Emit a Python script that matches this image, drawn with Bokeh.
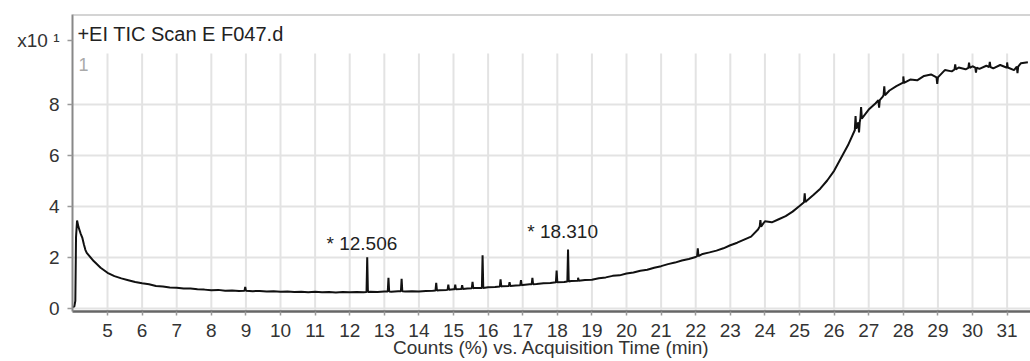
import numpy as np
from bokeh.plotting import figure
from bokeh.models import Range1d, Label, Span, FixedTicker
from bokeh.embed import file_html
from bokeh.resources import INLINE

# ---- data ----
early_t = [4.00, 4.04, 4.07, 4.09, 4.12, 4.16, 4.22, 4.27, 4.32, 4.36]
early_v = [0.05, 0.08, 0.30, 2.80, 3.45, 3.20, 2.95, 2.78, 2.50, 2.30]

base_t = [4.4, 4.6, 4.8, 5.0, 5.2, 5.4, 5.6, 5.8, 6.0, 6.2, 6.4, 6.6, 6.8, 7.0,
          7.2, 7.4, 7.6, 7.8, 8.0, 8.2, 8.4, 8.6, 8.8, 9.0, 9.2, 9.4, 9.6, 9.8,
          10.0, 10.2, 10.4, 10.6, 10.8, 11.0, 11.2, 11.4, 11.6, 11.8, 12.0, 12.2,
          12.4, 12.6, 12.8, 13.0, 13.2, 13.4, 13.6, 13.8, 14.0, 14.2, 14.4, 14.6,
          14.8, 15.0, 15.2, 15.4, 15.6, 15.8, 16.0, 16.2, 16.4, 16.6, 16.8, 17.0,
          17.2, 17.4, 17.6, 17.8, 18.0, 18.2, 18.4, 18.6, 18.8, 19.0, 19.2, 19.4,
          19.6, 19.8, 20.0, 20.2, 20.4, 20.6, 20.8, 21.0, 21.2, 21.4, 21.6, 21.8,
          22.0, 22.2, 22.4, 22.6, 22.8, 23.0, 23.2, 23.4, 23.6, 23.8, 24.0, 24.2,
          24.4, 24.6, 24.8, 25.0, 25.2, 25.4, 25.6, 25.8, 26.0, 26.2, 26.4, 26.6,
          26.8, 27.0, 27.2, 27.4, 27.6, 27.8, 28.0, 28.2, 28.4, 28.6, 28.8, 29.0,
          29.2, 29.4, 29.6, 29.8, 30.0, 30.2, 30.4, 30.6, 30.8, 31.0, 31.2, 31.4,
          31.6]
base_v = [2.18, 1.86, 1.60, 1.40, 1.27, 1.18, 1.11, 1.04, 0.99, 0.95, 0.88, 0.86, 0.82, 0.81,
          0.78, 0.78, 0.75, 0.74, 0.72, 0.73, 0.70, 0.71, 0.69, 0.70, 0.68, 0.69, 0.67, 0.68,
          0.66, 0.67, 0.65, 0.66, 0.64, 0.66, 0.64, 0.65, 0.63, 0.65, 0.64, 0.65,
          0.64, 0.66, 0.65, 0.67, 0.66, 0.68, 0.67, 0.68, 0.67, 0.69, 0.70, 0.72,
          0.73, 0.75, 0.76, 0.78, 0.80, 0.80, 0.83, 0.84, 0.87, 0.88, 0.90, 0.92,
          0.95, 0.96, 0.99, 1.00, 1.03, 1.04, 1.08, 1.09, 1.12, 1.13, 1.19, 1.22,
          1.28, 1.30, 1.37, 1.41, 1.48, 1.52, 1.60, 1.66, 1.74, 1.80, 1.88, 1.94,
          2.02, 2.14, 2.20, 2.27, 2.36, 2.48, 2.58, 2.70, 2.82, 3.10, 3.42, 3.38,
          3.50, 3.62, 3.80, 4.02, 4.22, 4.45, 4.70, 5.02, 5.40, 5.90, 6.40, 7.00,
          7.50, 7.80, 8.05, 8.30, 8.55, 8.72, 8.85, 8.98, 8.95, 9.12, 9.18, 9.05,
          9.35, 9.30, 9.45, 9.38, 9.50, 9.40, 9.52, 9.42, 9.55, 9.45, 9.35, 9.62,
          9.66]

# spikes: retention time and height above the local baseline
peak_t = [8.98, 12.506, 13.12, 13.50, 14.50, 14.85, 15.05, 15.25, 15.55, 15.84,
          16.36, 16.62, 16.95, 17.28, 17.98, 18.31, 18.60, 22.06, 23.87, 25.15,
          26.62, 26.72, 26.78, 27.30, 27.45, 28.00, 28.98, 29.50, 29.90, 30.10,
          30.50, 31.00, 31.30]
peak_h = [0.15, 1.36, 0.54, 0.49, 0.30, 0.20, 0.18, 0.15, 0.25, 1.28,
          0.28, 0.15, 0.20, 0.25, 0.46, 1.25, 0.12, 0.30, 0.25, 0.35,
          0.50, -0.40, 0.45, -0.30, 0.35, 0.25, -0.25, 0.20, 0.20, -0.20,
          0.20, 0.20, -0.25]

annot_text = ["* 12.506", "* 18.310"]
annot_t = [11.33, 17.13]
annot_v = [2.55, 3.0]

x_ticks = list(range(5, 32))
y_ticks = [0, 2, 4, 6, 8, 10.5]
y_tick_labels = {10.5: "x10 \u00b9"}

# ---- build trace ----
t_all = list(early_t) + list(base_t)
v_all = list(early_v) + list(base_v)
bt = np.array(t_all)
bv = np.array(v_all)
pts = list(zip(t_all, v_all))
for pt, ph in zip(peak_t, peak_h):
    b = float(np.interp(pt, bt, bv))
    pts += [(pt - 0.02, b), (pt, b + ph), (pt + 0.02, b)]
pts.sort(key=lambda q: q[0])
xs = [q[0] for q in pts]
ys = [q[1] for q in pts]

X0, X1 = 3.988, 31.676
Y0, Y1 = -0.118, 11.53
FONT = "Liberation Sans"

p = figure(width=1030, height=361, x_range=Range1d(X0, X1), y_range=Range1d(Y0, Y1),
           output_backend="svg", toolbar_location=None,
           min_border_left=72, min_border_right=0, min_border_top=14, min_border_bottom=50)
p.outline_line_color = None
p.background_fill_color = "white"

p.xgrid.visible = False
p.ygrid.grid_line_color = "#e3e3e3"
p.ygrid.grid_line_width = 2
p.ygrid.ticker = FixedTicker(ticks=[0, 2, 4, 6, 8])
p.segment(x0=x_ticks, y0=[Y0] * len(x_ticks), x1=x_ticks, y1=[10] * len(x_ticks),
          line_color="#e3e3e3", line_width=2)

p.xaxis.ticker = FixedTicker(ticks=x_ticks)
p.yaxis.ticker = FixedTicker(ticks=y_ticks)
p.yaxis.major_label_overrides = y_tick_labels
for ax in (p.xaxis, p.yaxis):
    ax.minor_tick_line_color = None
    ax.major_tick_in = 0
    ax.major_tick_line_color = "#999999"
    ax.major_tick_line_width = 1.5
    ax.major_label_text_font = FONT
    ax.major_label_text_font_size = "19px"
    ax.major_label_text_color = "#333333"
p.xaxis.major_tick_out = 4
p.yaxis.major_tick_out = 5
p.xaxis.axis_line_color = "#666666"
p.xaxis.axis_line_width = 2.5
p.xaxis.major_label_standoff = 8
p.xaxis.axis_label = "Counts (%) vs. Acquisition Time (min)"
p.xaxis.axis_label_text_font = FONT
p.xaxis.axis_label_text_font_size = "19px"
p.xaxis.axis_label_text_font_style = "normal"
p.xaxis.axis_label_text_color = "#333333"
p.xaxis.axis_label_standoff = -3
p.yaxis.axis_line_color = "#888888"
p.yaxis.axis_line_width = 2
p.yaxis.major_label_standoff = 8

p.add_layout(Span(location=Y1, dimension="width", line_color="#aaaaaa", line_width=2))

p.line(xs, ys, line_color="#111111", line_width=2)

for txt, tx, ty in zip(annot_text, annot_t, annot_v):
    p.add_layout(Label(x=tx, y=ty, text=txt, text_font=FONT, text_font_size="19px",
                       text_color="#222222", text_baseline="middle"))

p.add_layout(Label(x=4.13, y=10.75, text="+EI TIC Scan E F047.d", text_font=FONT,
                   text_font_size="20px", text_color="#222222", text_baseline="middle"))
p.add_layout(Label(x=4.16, y=9.55, text="1", text_font=FONT, text_font_size="18px",
                   text_color="#aaaaaa", text_baseline="middle"))

open("out.html", "w").write(file_html(p, INLINE))
